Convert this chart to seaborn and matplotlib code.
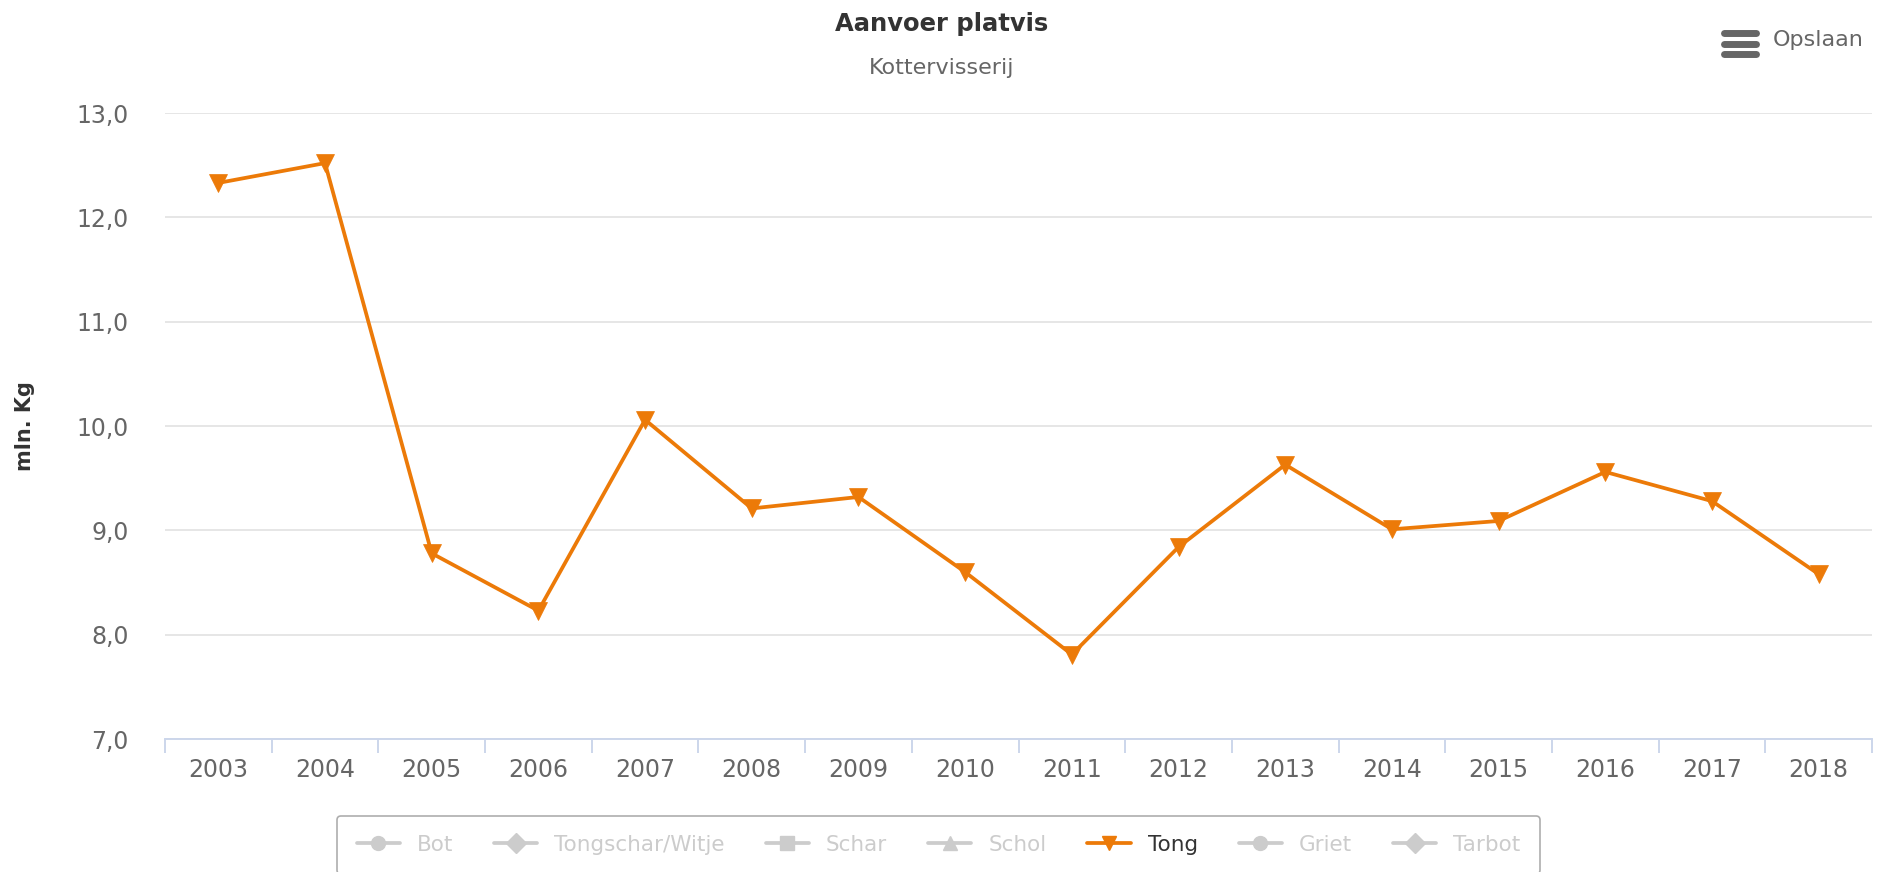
import pandas as pd
import matplotlib.pyplot as plt
import seaborn as sns
from matplotlib.lines import Line2D
from matplotlib.ticker import FuncFormatter, FixedLocator

# Data
jaren = ['2003', '2004', '2005', '2006', '2007', '2008', '2009', '2010',
         '2011', '2012', '2013', '2014', '2015', '2016', '2017', '2018']
tong = [12.33, 12.52, 8.78, 8.23, 10.06, 9.21, 9.32, 8.60,
        7.81, 8.84, 9.63, 9.01, 9.09, 9.56, 9.28, 8.58]
legenda_namen = ['Bot', 'Tongschar/Witje', 'Schar', 'Schol', 'Tong', 'Griet', 'Tarbot']
legenda_markers = ['o', 'D', 's', '^', 'v', 'o', 'D']

ORANJE = '#ec7a08'
GRIJS = '#cccccc'

sns.set_theme(style="white")
plt.rcParams['font.family'] = ['DejaVu Sans']

df = pd.DataFrame({'jaar': jaren, 'waarde': tong})

fig = plt.figure(figsize=(18.79, 8.72), dpi=100)
ax = fig.add_axes([0.0878, 0.1525, 0.9085, 0.7179])

sns.lineplot(data=df, x='jaar', y='waarde', ax=ax, color=ORANJE, linewidth=2.7,
             marker='v', markersize=13, markeredgecolor=ORANJE, markeredgewidth=0.5,
             zorder=3)

ax.set_xlim(-0.5, len(jaren) - 0.5)
ax.set_ylim(7, 13)
ax.set_yticks([7, 8, 9, 10, 11, 12, 13])
ax.yaxis.set_major_formatter(FuncFormatter(lambda v, p: f"{v:.1f}".replace('.', ',')))
ax.grid(axis='y', color='#e6e6e6', linewidth=1.4)
ax.grid(axis='x', visible=False)
ax.set_axisbelow(True)

for s in ['top', 'right', 'left']:
    ax.spines[s].set_visible(False)
ax.spines['bottom'].set_color('#ccd6eb')
ax.spines['bottom'].set_linewidth(1.4)

ax.xaxis.set_minor_locator(FixedLocator([i - 0.5 for i in range(len(jaren) + 1)]))
ax.tick_params(axis='x', which='major', length=0, pad=14, labelsize=17, labelcolor='#666666')
ax.tick_params(axis='x', which='minor', length=10, width=1.4, color='#ccd6eb', bottom=True)
ax.tick_params(axis='y', length=0, pad=26, labelsize=17, labelcolor='#666666')

ax.set_xlabel('')
ax.set_ylabel('mln. Kg', fontsize=15, fontweight='bold', color='#333333', labelpad=30)

# Titels
fig.text(0.501, 0.972, 'Aanvoer platvis', ha='center', va='center',
         fontsize=17.5, fontweight='bold', color='#333333')
fig.text(0.501, 0.922, 'Kottervisserij', ha='center', va='center',
         fontsize=16, color='#666666')

# Opslaan knop
for yy in [0.962, 0.950, 0.938]:
    fig.add_artist(Line2D([0.9175, 0.9345], [yy + 0.0, yy + 0.0], transform=fig.transFigure,
                          color='#666666', linewidth=5, solid_capstyle='round'))
fig.text(0.9435, 0.954, 'Opslaan', ha='left', va='center', fontsize=16, color='#666666')

# Legenda
handles = []
for naam, m in zip(legenda_namen, legenda_markers):
    kleur = ORANJE if naam == 'Tong' else GRIJS
    handles.append(Line2D([0], [0], color=kleur, linewidth=2.7, marker=m,
                          markersize=10, markeredgecolor=kleur))
leg = fig.legend(handles=handles, labels=legenda_namen, loc='upper center',
                 bbox_to_anchor=(0.4995, 0.077), ncol=7, frameon=True,
                 fontsize=15.5, handlelength=2.0, columnspacing=1.9,
                 borderpad=0.9, fancybox=True)
leg.get_frame().set_edgecolor('#999999')
leg.get_frame().set_linewidth(1.2)
for t, naam in zip(leg.get_texts(), legenda_namen):
    t.set_color('#333333' if naam == 'Tong' else GRIJS)

fig.savefig('out.png', dpi=100)
